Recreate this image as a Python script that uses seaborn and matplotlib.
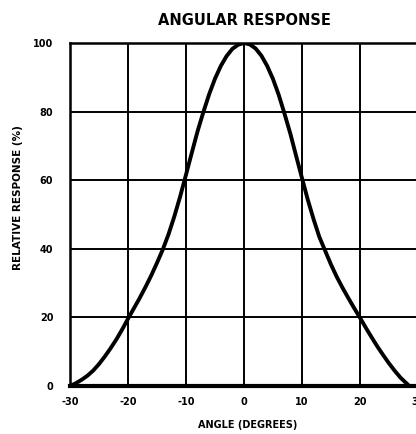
import numpy as np
import pandas as pd
import seaborn as sns
import matplotlib.pyplot as plt

# values (left half, peak, right half)
angle = [-30, -29, -28, -27, -26, -25, -24, -23, -22, -21, -20, -19, -18, -17,
         -16, -15, -14, -13, -12, -11, -10, -9, -8, -7, -6, -5, -4, -3, -2, -1,
         0, 1, 2, 3, 4, 5, 6, 7, 8, 9, 10, 11, 12, 13, 14, 15, 16, 17, 18, 19,
         20, 21, 22, 23, 24, 25, 26, 27, 28, 28.5]
response = [0, 0.8, 1.8, 3.0, 4.5, 6.4, 8.6, 11.0, 13.6, 16.5, 19.6, 22.6, 25.6,
            28.8, 32.2, 35.9, 39.8, 44.3, 49.5, 55.3, 61.6, 68.0, 74.3, 79.9,
            85.1, 89.6, 93.3, 96.2, 98.3, 99.5,
            100, 99.6, 98.4, 96.3, 93.3, 89.5, 84.8, 79.3, 73.5, 67.0, 60.6,
            54.3, 48.6, 43.4, 39.4, 35.4, 31.8, 28.6, 25.6, 22.7, 19.9, 17.0,
            14.2, 11.5, 9.0, 6.6, 4.4, 2.4, 0.8, 0]
xticks = [-30, -20, -10, 0, 10, 20, 30]
yticks = [0, 20, 40, 60, 80, 100]

data = pd.DataFrame({"Angle": angle, "Response": response})

sns.set_style("white")
plt.rcParams["font.family"] = ["DejaVu Sans"]
plt.rcParams["text.color"] = "black"
plt.rcParams["xtick.color"] = "black"
plt.rcParams["ytick.color"] = "black"
plt.rcParams["axes.labelcolor"] = "black"

fig = plt.figure(figsize=(4.16, 4.34), dpi=100)
ax = fig.add_axes([70 / 416, 48 / 434, 348 / 416, 343 / 434])

sns.lineplot(data=data, x="Angle", y="Response", color="black", linewidth=2.8,
             solid_joinstyle="round", ax=ax)

ax.set_xlim(-30, 30)
ax.set_ylim(0, 100)
ax.set_xticks(xticks)
ax.set_yticks(yticks)
ax.set_xticklabels([str(t) for t in xticks], fontsize=7, fontweight="bold")
ax.set_yticklabels([str(t) for t in yticks], fontsize=7, fontweight="bold")
ax.tick_params(axis="both", length=0)
ax.tick_params(axis="y", pad=12)
ax.tick_params(axis="x", pad=8)

ax.grid(True, color="black", linewidth=1.4)
for side in ["left", "top", "right"]:
    ax.spines[side].set_color("black")
    ax.spines[side].set_linewidth(1.8)
ax.spines["bottom"].set_color("black")
ax.spines["bottom"].set_linewidth(3)

ax.set_xlabel("ANGLE (DEGREES)", fontsize=7, fontweight="bold")
ax.xaxis.set_label_coords(0.51, -0.098)
ax.set_ylabel("RELATIVE RESPONSE (%)", fontsize=7.5, fontweight="bold")
ax.yaxis.set_label_coords(-0.135, 0.548)
ax.set_title("ANGULAR RESPONSE", fontsize=10.5, fontweight="bold", pad=13)

plt.savefig("out.png", dpi=100)
